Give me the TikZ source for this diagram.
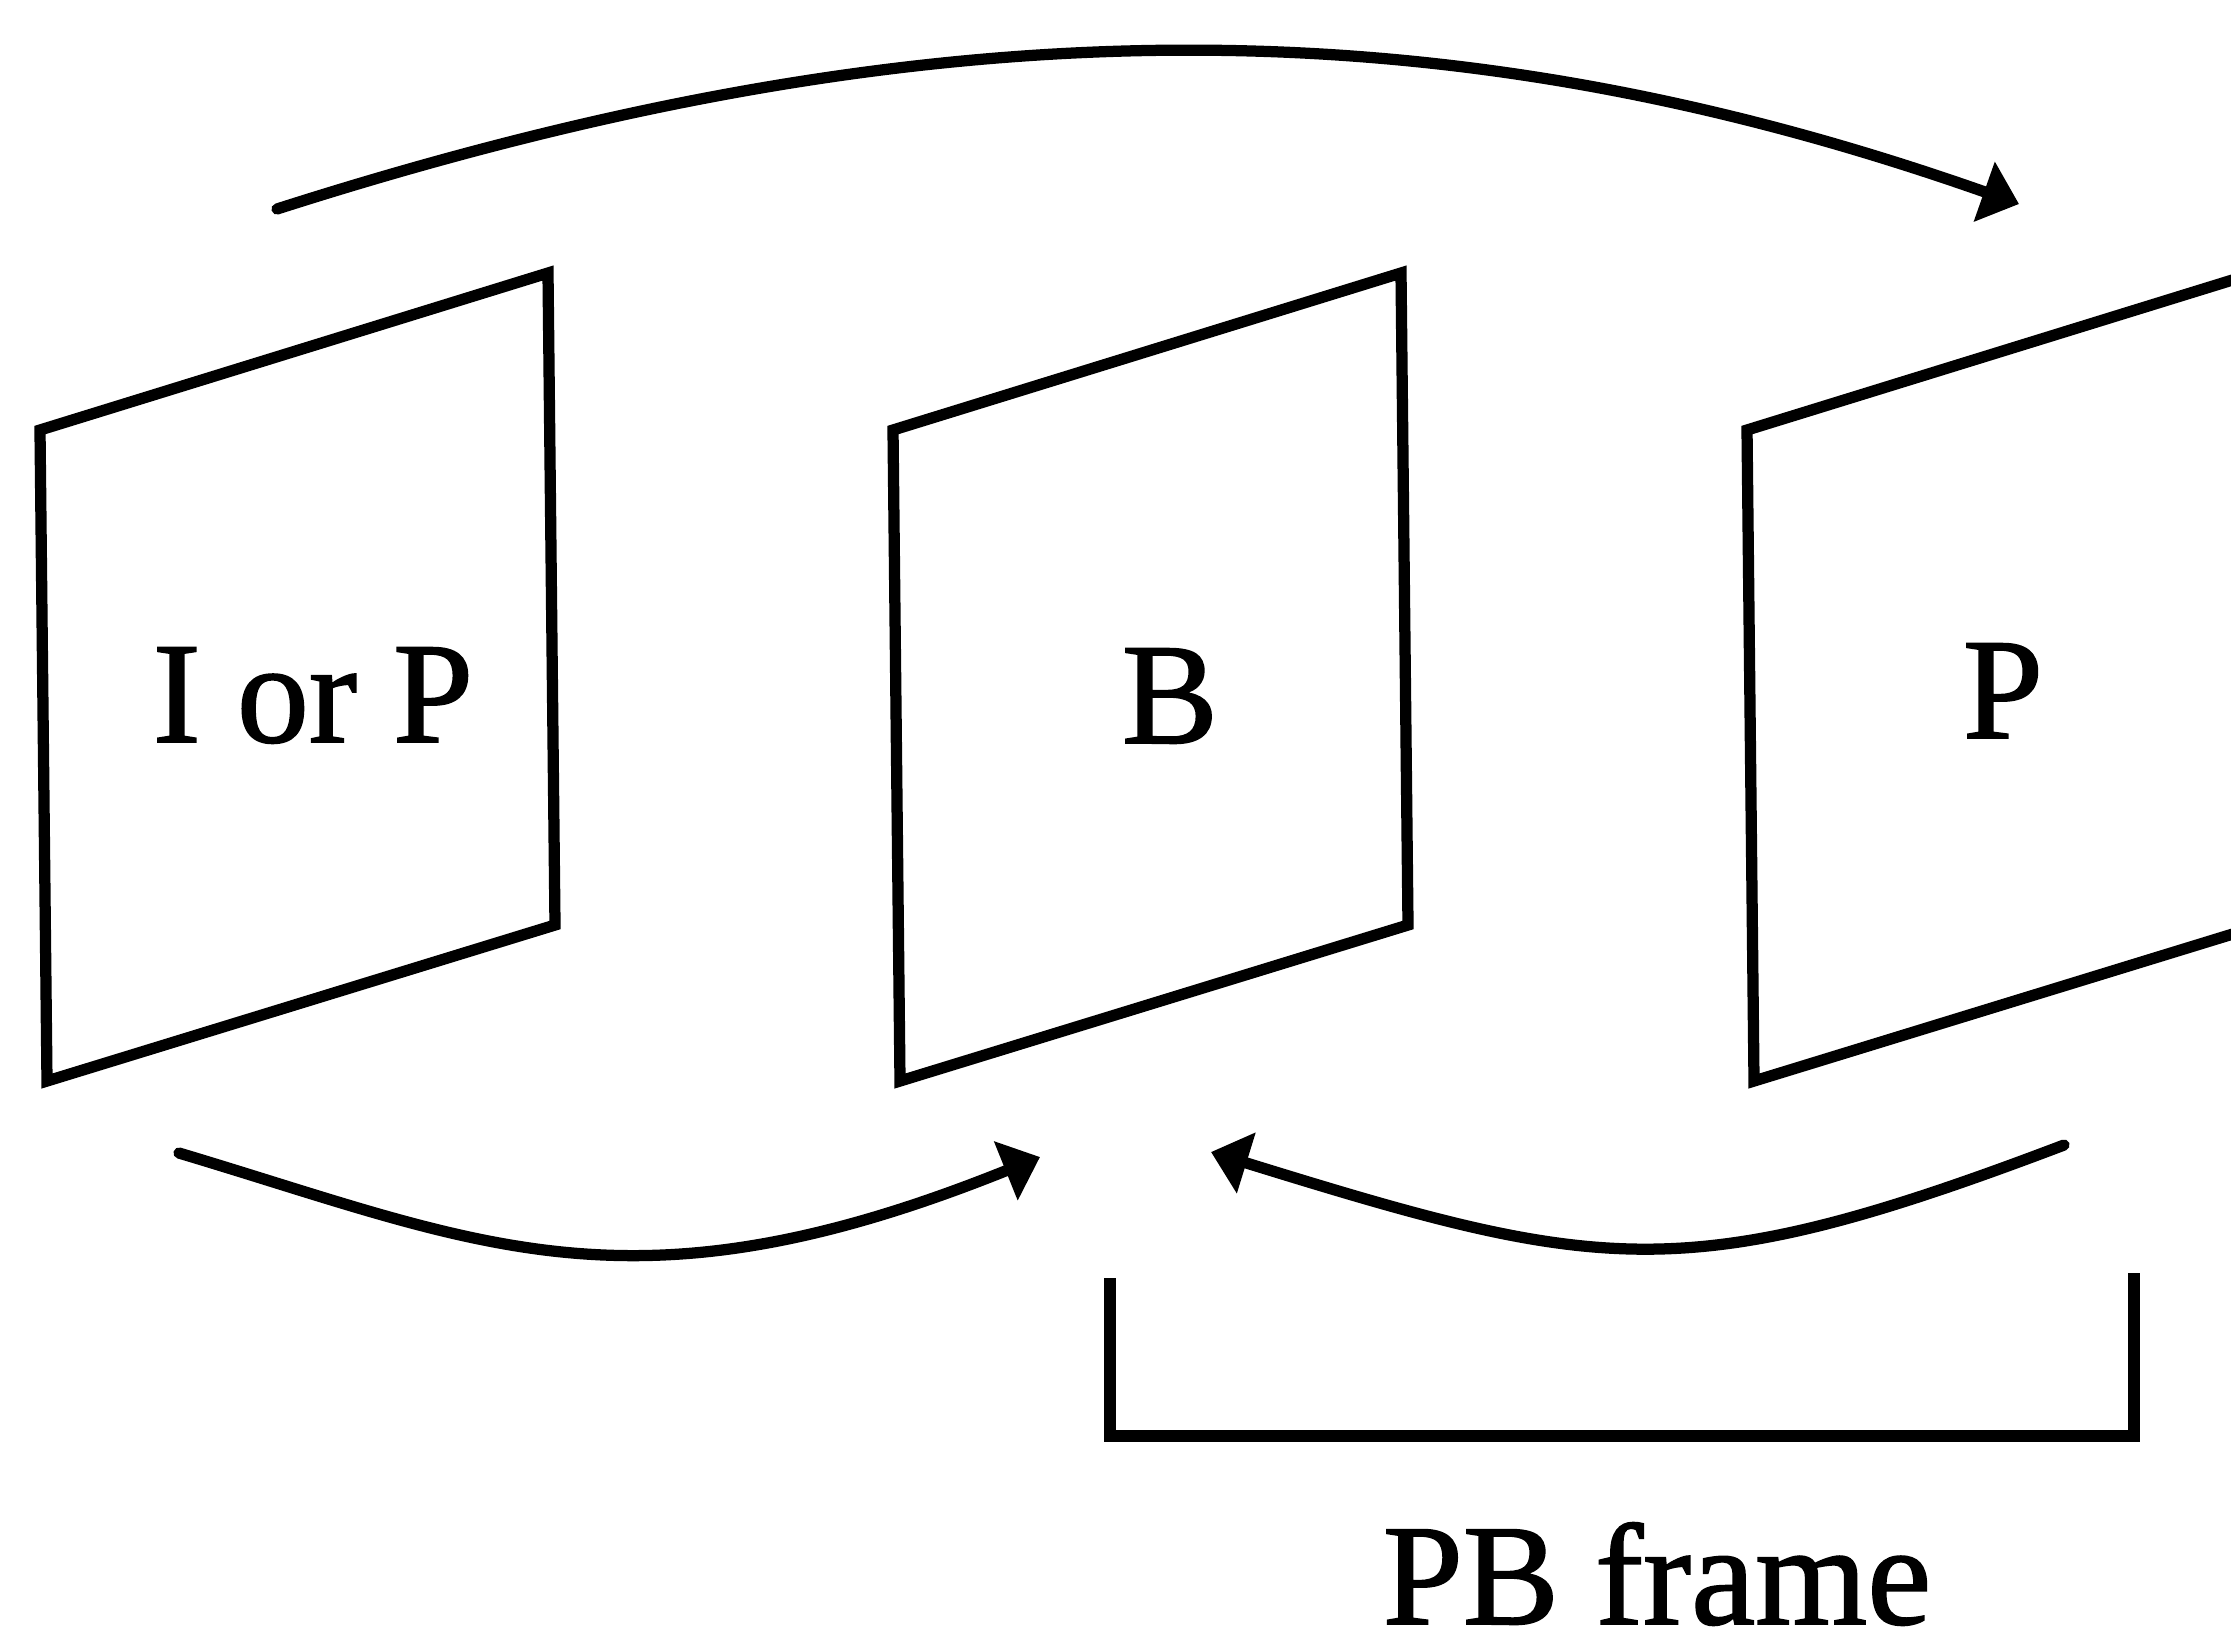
\documentclass[tikz,border=0pt]{standalone}
\usepackage{fontspec}
\setmainfont{Liberation Serif}
\newfontface\labelface{Liberation Serif}[FakeBold=1.2]
\usetikzlibrary{arrows.meta}
\begin{document}
\begin{tikzpicture}[x=0.01cm,y=-0.01cm,
  edge/.style={line width=3.2pt, line join=miter},
  flow/.style={line width=3.2pt, line cap=round,
    -{Triangle[length=10.5pt,width=17.5pt]}},
  lab/.style={font=\labelface\fontsize{41}{45}\selectfont, inner sep=0pt, anchor=base}]
\useasboundingbox (0,0) rectangle (2231,1650);
\clip (0,0) rectangle (2231,1650);

% picture frames seen in perspective, one per top-left corner
\foreach \n/\x in {f1/40, f2/893, f3/1747} {
  \coordinate (\n) at (\x,430);
  \draw[edge] (\n) -- ++(508,-157) -- ++(7,652) -- ++(-508,156) -- cycle;
}

% frame types
\node[lab] (t1) at (313,742) {I or P};
\node[lab] (t2) at (1170,743) {B};
\node[lab] (t3) at (2003,738) {P};

% forward prediction over the top
\coordinate (a1s) at (277,209);
\coordinate (a1e) at (2019,204);
\draw[flow] (a1s) .. controls (930,0) and (1440,0) .. (a1e);

% bidirectional prediction into the B frame
\coordinate (a2s) at (179,1153);
\coordinate (a2e) at (1040,1157);
\draw[flow] (a2s) .. controls (480,1243) and (630,1322) .. (a2e);

\coordinate (a3s) at (2064,1145);
\coordinate (a3e) at (1211,1152);
\draw[flow] (a3s) .. controls (1685,1289) and (1602,1273) .. (a3e);

% bracket grouping the PB pair
\coordinate (bl) at (1110,1278);
\coordinate (br) at (2134,1273);
\coordinate (bc) at (2134,1436);
\draw[edge] (bl) |- (bc) -- (br);
\node[lab] (pb) at (1657,1624) {PB frame};
\end{tikzpicture}
\end{document}
